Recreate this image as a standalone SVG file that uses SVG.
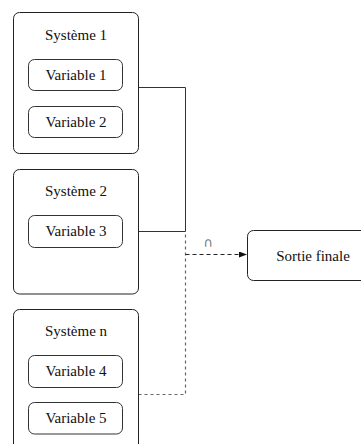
<svg xmlns="http://www.w3.org/2000/svg" width="361" height="444" viewBox="0 0 361 444">
<style>
.sys{fill:#fff;stroke:#222;stroke-width:1}
.var{fill:#fff;stroke:#333;stroke-width:1}
.t{font-size:15px;fill:#111;text-anchor:middle}
.solid{fill:none;stroke:#333;stroke-width:1}
.dot{fill:none;stroke:#666;stroke-width:1.2;stroke-dasharray:3,3}
.dash{fill:none;stroke:#222;stroke-width:1.2;stroke-dasharray:4,3}
.lbl{font-family:'DejaVu Sans',sans-serif;font-size:13px;fill:#777;text-anchor:middle}
</style>
<defs>
<marker id="arr" markerWidth="8" markerHeight="6" refX="8" refY="3" orient="auto" markerUnits="userSpaceOnUse">
<path d="M0,0 L8,3 L0,6 Z" fill="#111"/>
</marker>
</defs>
<g id="connectors">
<path class="solid" d="M138.5,87.5 H185.5 V231.5 H138.5"/>
<path class="dot" d="M138.5,394.5 H185.5 V231.5"/>
<path class="dash" d="M185.5,254.5 H247" marker-end="url(#arr)"/>
<text class="lbl" x="208" y="247">∩</text>
</g>
<g id="all" font-family="Liberation Serif, serif">
<g id="systeme1">
<rect class="sys" x="13.5" y="12.5" width="125" height="141" rx="6"/>
<text class="t" x="76" y="39.5">Système 1</text>
</g>
<g id="variable1">
<rect class="var" x="28.5" y="59.5" width="94" height="31" rx="6"/>
<text class="t" x="76" y="79.5">Variable 1</text>
</g>
<g id="variable2">
<rect class="var" x="28.5" y="106.5" width="94" height="31" rx="6"/>
<text class="t" x="76" y="126.5">Variable 2</text>
</g>
<g id="systeme2">
<rect class="sys" x="13.5" y="169.5" width="125" height="124.5" rx="6"/>
<text class="t" x="76" y="196">Système 2</text>
</g>
<g id="variable3">
<rect class="var" x="28.5" y="215.5" width="94" height="32" rx="6"/>
<text class="t" x="76" y="236">Variable 3</text>
</g>
<g id="systemen">
<rect class="sys" x="13.5" y="309.5" width="125" height="150" rx="6"/>
<text class="t" x="76" y="336">Système n</text>
</g>
<g id="variable4">
<rect class="var" x="28.5" y="355.5" width="94" height="32" rx="6"/>
<text class="t" x="76" y="376">Variable 4</text>
</g>
<g id="variable5">
<rect class="var" x="28.5" y="402.5" width="94" height="31.5" rx="6"/>
<text class="t" x="76" y="423">Variable 5</text>
</g>
<g id="sortie">
<rect class="sys" x="247.5" y="230.5" width="131" height="50" rx="6"/>
<text class="t" x="313" y="261">Sortie finale</text>
</g>
</g>
</svg>
